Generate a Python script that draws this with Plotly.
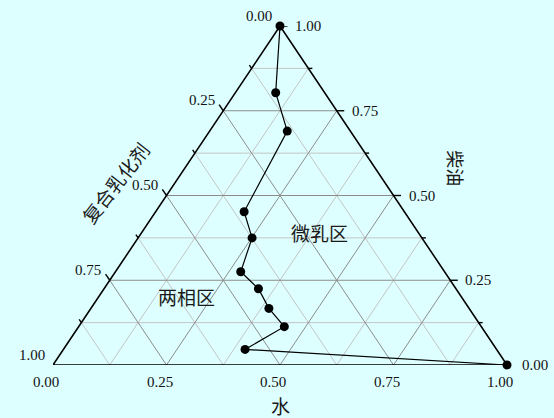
import math
import plotly.graph_objects as go

# ---- data (ternary compositions, mass fraction) ----
water = [0.00, 0.089, 0.171, 0.195, 0.251, 0.276, 0.340, 0.392, 0.453, 0.400, 1.00]
diesel = [1.00, 0.803, 0.690, 0.452, 0.375, 0.275, 0.225, 0.167, 0.113, 0.046, 0.00]
emulsifier = [round(1 - w - d, 3) for w, d in zip(water, diesel)]

tick_vals = [0.0, 0.125, 0.25, 0.375, 0.5, 0.625, 0.75, 0.875, 1.0]
label_vals = [0.0, 0.25, 0.5, 0.75, 1.0]
label_text = ["0.00", "0.25", "0.50", "0.75", "1.00"]

axis_bottom = "水"
axis_left = "复合乳化剂"
axis_right = "柴油"
region_labels = ["微乳区", "两相区"]
region_pos = [(319, 233), (187, 297)]  # pixel centres

# ---- layout geometry ----
W, H = 554, 418
ML, MR, MT, MB = 53.3, 47.3, 25.5, 52.5
PW = W - ML - MR
PH = H - MT - MB
BG = "#DEFFFF"

def tern(w, d):
    """water, diesel -> cartesian (x along base, y = height fraction)"""
    return w + d / 2.0, d

def px_to_paper(px, py):
    return (px - ML) / PW, (H - MB - py) / PH

fig = go.Figure()

def add_lines(segs, color, width):
    xs, ys = [], []
    for (x0, y0), (x1, y1) in segs:
        xs += [x0, x1, None]
        ys += [y0, y1, None]
    fig.add_trace(go.Scatter(x=xs, y=ys, mode="lines",
                             line=dict(color=color, width=width),
                             hoverinfo="skip", showlegend=False, cliponaxis=False))

def grid_segs(v):
    segs = []
    # constant diesel (horizontal)
    segs.append((tern(0, v), tern(1 - v, v)))
    # constant water (parallel to left edge)
    segs.append((tern(v, 0), tern(v, 1 - v)))
    # constant emulsifier (parallel to right edge)
    segs.append((tern(0, 1 - v), tern(1 - v, 0)))
    return segs

minor, major = [], []
for v in tick_vals[1:-1]:
    (major if v in label_vals else minor).extend(grid_segs(v))
add_lines(minor, "#C4C4C4", 1)
add_lines(major, "#8C8C8C", 1)

# triangle outline
fig.add_trace(go.Scatter(x=[0, 1, 0.5, 0], y=[0, 0, 1, 0], mode="lines",
                         line=dict(color="black", width=1.6),
                         hoverinfo="skip", showlegend=False, cliponaxis=False))

# ticks
def unit_px(dx, dy):
    px, py = dx * PW, dy * PH
    n = math.hypot(px, py)
    return px / n, py / n

dirs = {
    "bottom": unit_px(-0.5, -1.0),
    "left": unit_px(-0.5, 1.0),
    "right": (1.0, 0.0),
}
tick_segs = []
for v in tick_vals:
    L = 7.5 if v in label_vals else 4
    bases = {
        "bottom": tern(v, 0),
        "left": tern(0, 1 - v),
        "right": tern(1 - v, v),
    }
    for k, (bx, by) in bases.items():
        ux, uy = dirs[k]
        tick_segs.append(((bx, by), (bx + ux * L / PW, by + uy * L / PH)))
add_lines(tick_segs, "black", 1.4)

# data line
xs, ys = zip(*[tern(w, d) for w, d in zip(water, diesel)])
fig.add_trace(go.Scatter(x=list(xs), y=list(ys), mode="lines+markers",
                         line=dict(color="black", width=1.2),
                         marker=dict(color="black", size=9),
                         customdata=emulsifier,
                         hovertemplate="水 %{x}<br>复合乳化剂 %{customdata}<extra></extra>",
                         showlegend=False, cliponaxis=False))

num_font = dict(family="Liberation Serif", size=15, color="#111111")
cjk_font = "Noto Sans CJK SC"
ann = []
for v, t in zip(label_vals, label_text):
    bx, by = tern(v, 0)
    ann.append(dict(x=bx, y=by, text=t, xanchor="center", yanchor="middle",
                    xshift=-6.7, yshift=-16.5, font=num_font))
    bx, by = tern(0, 1 - v)
    ann.append(dict(x=bx, y=by, text=t, xanchor="right", yanchor="middle",
                    xshift=-6.5, yshift=10.5, font=num_font))
    bx, by = tern(1 - v, v)
    ann.append(dict(x=bx, y=by, text=t, xanchor="left", yanchor="middle",
                    xshift=13, yshift=0, font=num_font))

def pix_ann(text, px, py, size, angle=0):
    x, y = px_to_paper(px, py)
    return dict(x=x, y=y, text=text, xanchor="center", yanchor="middle",
                xref="paper", yref="paper",
                textangle=angle, font=dict(family=cjk_font, size=size, color="#1a1a1a"))

for a in ann:
    a["xref"] = "x"
    a["yref"] = "y"

ann.append(pix_ann(axis_bottom, 280, 406, 19))
ann.append(pix_ann(axis_left, 115, 182, 19, -52))
ann.append(pix_ann(axis_right, 455.5, 168, 18, 90))
for t, (px, py) in zip(region_labels, region_pos):
    ann.append(pix_ann(t, px, py, 19))

for a in ann:
    a["showarrow"] = False

fig.update_layout(
    width=W, height=H, autosize=False,
    margin=dict(l=ML, r=MR, t=MT, b=MB, pad=0),
    paper_bgcolor=BG, plot_bgcolor=BG,
    xaxis=dict(range=[0, 1], visible=False, fixedrange=True),
    yaxis=dict(range=[0, 1], visible=False, fixedrange=True),
    annotations=ann,
    showlegend=False,
)

fig.write_html(
    "out.html",
    config={"displayModeBar": False},
    post_script="document.body.style.margin='0px';document.body.style.background='" + BG + "';",
)
